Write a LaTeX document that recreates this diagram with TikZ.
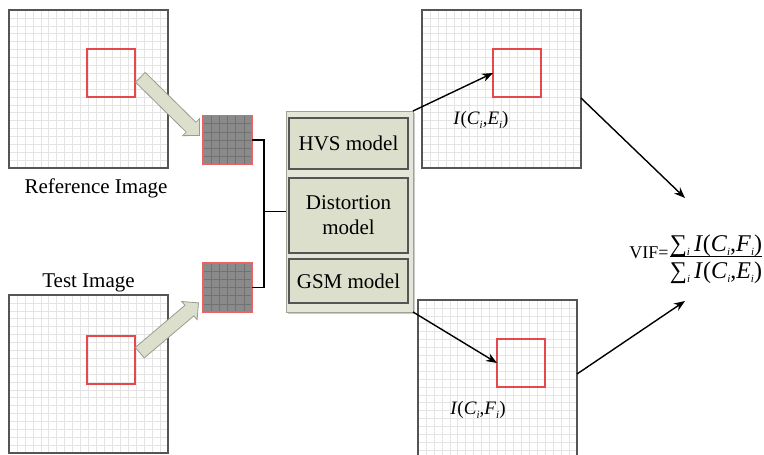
\documentclass[tikz,border=0pt]{standalone}
\usepackage{fontspec}
\setmainfont{Liberation Serif}
\usetikzlibrary{shapes.arrows,arrows.meta,calc,shadows}

\definecolor{frameC}{HTML}{555555}
\definecolor{gridC}{HTML}{E4E4E4}
\definecolor{roiC}{HTML}{E5484A}
\definecolor{patchC}{HTML}{8A8A8A}
\definecolor{patchGrid}{HTML}{727272}
\definecolor{sageC}{HTML}{DCDFCB}
\definecolor{panelC}{HTML}{E4E6D7}
\definecolor{panelEdge}{HTML}{A0A296}
\definecolor{arrowEdge}{HTML}{9A9C90}

% small italic subscript i
\newcommand\subi{\raisebox{-0.45ex}{\fontsize{11}{11}\selectfont\itshape i}}
\newcommand\sumsym{\char"2211}

% inner lines of a square node #1: #2 lines, #3 cells, style #4
\newcommand\cellgrid[4]{\foreach \k in {1,...,#2}{%
  \draw[#4] ($(#1.south west)!\k/#3!(#1.south east)$) -- ($(#1.north west)!\k/#3!(#1.north east)$);
  \draw[#4] ($(#1.south west)!\k/#3!(#1.north west)$) -- ($(#1.south east)!\k/#3!(#1.north east)$);}}

\tikzset{
  imgsq/.style={fill=white, minimum width=159pt, minimum height=158pt,
    inner sep=0pt, outer sep=0pt},
  imgframe/.style={draw=frameC, line width=1.8pt},
  gridln/.style={draw=gridC, line width=0.55pt},
  roi/.style={minimum size=48pt, inner sep=0pt, outer sep=0pt},
  roiframe/.style={draw=roiC, line width=1.5pt},
  patch/.style={fill=patchC, minimum size=49pt, inner sep=0pt, outer sep=0pt},
  patchln/.style={draw=patchGrid, line width=0.5pt},
  patchframe/.style={draw=roiC!85, line width=1.4pt},
  bigarrow/.style={single arrow, draw=arrowEdge, fill=sageC, line width=0.8pt,
    inner sep=6.5pt, single arrow head extend=5pt, single arrow tip angle=90,
    minimum height=#1},
  panel/.style={draw=panelEdge, fill=panelC, line width=1pt, inner sep=0pt, outer sep=0pt,
    minimum width=127pt, minimum height=201pt,
    drop shadow={shadow xshift=1.5pt, shadow yshift=-1.5pt, fill=black!35, opacity=0.6}},
  modelbox/.style={draw=frameC, line width=1.3pt, fill=sageC, minimum width=119pt,
    inner sep=0pt, font=\fontsize{21}{25}\selectfont, align=center},
  caption/.style={font=\fontsize{21}{24}\selectfont, inner sep=0pt},
  infolabel/.style={font=\fontsize{19}{22}\selectfont, inner sep=0pt},
  fml/.style={font=\fontsize{24}{26}\selectfont, inner sep=0pt},
  flow/.style={-{Stealth[length=11pt,width=8.5pt]}, line width=1.4pt},
  wire/.style={line width=1.4pt},
}

\begin{document}
\begin{tikzpicture}[x=1pt, y=1pt]
\useasboundingbox (0,0) rectangle (764,-455);

% images: white ground, grid, frame
\node[imgsq] (refimg)  at (88.5,-89)  {};
\node[imgsq] (testimg) at (88.5,-374) {};
\node[imgsq] (ceimg)   at (501.5,-89) {};
\node[imgsq] (cfimg)   at (497.5,-379) {};
\foreach \im in {refimg,testimg,ceimg,cfimg}{
  \cellgrid{\im}{19}{20}{gridln}
  \draw[imgframe] (\im.south west) rectangle (\im.north east);
}

\node[caption, anchor=base] (reflabel)  at (96,-193) {Reference Image};
\node[caption, anchor=base] (testlabel) at (88.5,-287) {Test Image};

% extracted patches
\node[patch] (refpatch)  at (227.5,-140)   {};
\node[patch] (testpatch) at (227.5,-287.5) {};
\foreach \pa in {refpatch,testpatch}{
  \cellgrid{\pa}{5}{6}{patchln}
  \draw[patchframe] (\pa.south west) rectangle (\pa.north east);
}

% regions of interest
\node[roi] (refroi)  at (111,-73)  {};
\node[roi] (testroi) at (111,-360) {};
\node[roi] (ceroi)   at (517,-73)  {};
\node[roi] (cfroi)   at (521,-363) {};
\foreach \ro in {refroi,testroi,ceroi,cfroi}{
  \draw[roiframe] (\ro.south west) rectangle (\ro.north east);
}

\node[bigarrow=83pt, rotate=-44.5] (refarrow)  at (167.5,-104) {};
\node[bigarrow=77pt, rotate=40.3]  (testarrow) at (166.5,-330) {};

% model panel
\node[panel] (panel) at (349.5,-211.5) {};
\node[modelbox, minimum height=51pt] (hvs)  at (348.5,-143.5) {HVS model};
\node[modelbox, minimum height=75pt] (dist) at (348.5,-215.5) {Distortion\\model};
\node[modelbox, minimum height=44pt] (gsm)  at (348.5,-281)   {GSM model};

\draw[wire] (refpatch.east) -- ++(12,0) coordinate (jn) |- (testpatch.east);
\draw[wire] (panel.west) -- (panel.west -| jn);

% information measures
\node[infolabel] (celabel) at (481,-120) {\textit{I}(\textit{C}\subi,\textit{E}\subi)};
\node[infolabel] (cflabel) at (478,-410) {\textit{I}(\textit{C}\subi,\textit{F}\subi)};

\draw[flow] (panel.north east) -- (ceroi.west);
\draw[flow] (panel.south east) -- (cfroi.west);

% VIF formula
\node[fml, anchor=base] (num) at (716,-251)
  {\sumsym\subi\,\textit{I}(\textit{C}\subi,\textit{F}\subi)};
\node[fml, anchor=base] (den) at (716,-278)
  {\sumsym\subi\,\textit{I}(\textit{C}\subi,\textit{E}\subi)};
\coordinate (bar) at (0,-256);
\draw[line width=1pt] (den.west |- bar) -- (den.east |- bar);
\coordinate (vifbase) at (0,-258);
\node[font=\fontsize{18}{20}\selectfont, inner sep=0pt, anchor=base east] (vif)
  at ([xshift=-1pt]den.west |- vifbase) {VIF=};

\coordinate (vifin1) at (685,-198);
\coordinate (vifin2) at (685,-301);
\draw[flow] ([yshift=-9pt]ceimg.east) -- (vifin1);
\draw[flow] ([yshift=5pt]cfimg.east) -- (vifin2);
\end{tikzpicture}
\end{document}
